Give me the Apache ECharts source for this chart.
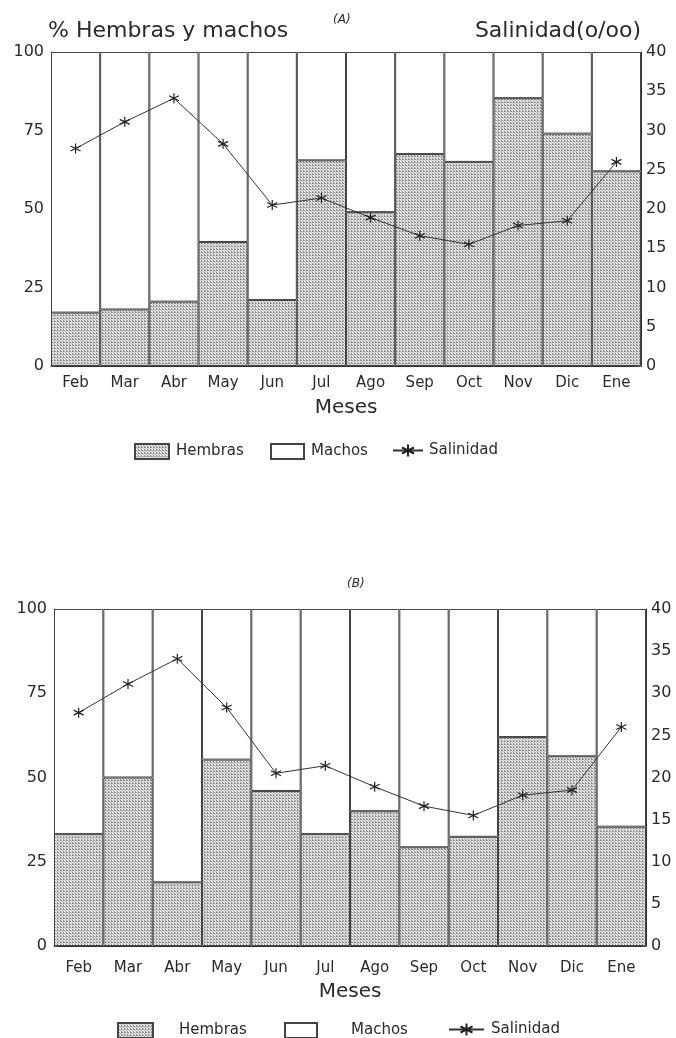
<!DOCTYPE html>
<html>
<head>
<meta charset="utf-8">
<script src="https://cdn.jsdelivr.net/npm/echarts@6/dist/echarts.min.js"></script>
<style>
html,body{margin:0;padding:0;background:#fff;}
#c{width:676px;height:1038px;}
</style>
</head>
<body>
<div id="c"></div>
<script>
const meses = ['Feb','Mar','Abr','May','Jun','Jul','Ago','Sep','Oct','Nov','Dic','Ene'];
const hembrasA = [17, 18, 20.5, 39.5, 21, 65.5, 49, 67.5, 65, 85.3, 74, 62];
const machosA  = [83, 82, 79.5, 60.5, 79, 34.5, 51, 32.5, 35, 14.7, 26, 38];
const hembrasB = [33.2, 50, 18.9, 55.3, 46, 33.2, 40, 29.3, 32.4, 62, 56.3, 35.4];
const machosB  = [66.8, 50, 81.1, 44.7, 54, 66.8, 60, 70.7, 67.6, 38, 43.7, 64.6];
const salinidad = [27.7, 31.1, 34.1, 28.3, 20.5, 21.4, 18.9, 16.6, 15.5, 17.9, 18.5, 26.0];
const leftTicks = [0, 25, 50, 75, 100];
const rightTicks = [0, 5, 10, 15, 20, 25, 30, 35, 40];

// dotted fill pattern
const pc = document.createElement('canvas');
pc.width = 3; pc.height = 3;
const pctx = pc.getContext('2d');
pctx.fillStyle = '#e6e6e6'; pctx.fillRect(0,0,3,3);
pctx.fillStyle = '#8c8c8c';
pctx.fillRect(0,0,1,1); pctx.fillRect(1,0,1,1);
pctx.fillRect(0,2,1,1);
pctx.fillStyle = '#b4b4b4';
pctx.fillRect(2,1,1,1);
const pattern = {image: pc, repeat: 'repeat'};

const star = 'path://M0,-5L0,5M-4.4,-2.5L4.4,2.5M-4.4,2.5L4.4,-2.5M0,-5';
const FONT = 'DejaVu Sans';
const TXT = '#2a2a2a';

const grids = [
  {left: 51, top: 52, width: 590, height: 314},
  {left: 54, top: 609, width: 592, height: 337}
];

function xAxis(i, margin, gap){
  return {
    type: 'category', gridIndex: i, data: meses,
    axisLine: {lineStyle: {color: '#333', width: 1}},
    axisTick: {inside: true, alignWithLabel: true, length: 5, lineStyle: {color: '#555'}},
    axisLabel: {color: TXT, fontFamily: FONT, fontSize: 15, margin: margin},
    name: 'Meses', nameLocation: 'middle', nameGap: gap,
    nameTextStyle: {color: TXT, fontFamily: FONT, fontSize: 20}
  };
}
function yLeft(i){
  return {
    type: 'value', gridIndex: i, position: 'left', min: leftTicks[0], max: leftTicks[leftTicks.length-1], interval: 25,
    splitLine: {show: false},
    axisLine: {show: true, lineStyle: {color: '#333'}},
    axisTick: {show: true, inside: true, length: 4, lineStyle: {color: '#555'}},
    axisLabel: {color: TXT, fontFamily: FONT, fontSize: 16, margin: 7}
  };
}
function yRight(i){
  return {
    type: 'value', gridIndex: i, position: 'right', min: rightTicks[0], max: rightTicks[rightTicks.length-1], interval: 5,
    splitLine: {show: false},
    axisLine: {show: true, lineStyle: {color: '#333'}},
    axisTick: {show: true, inside: true, length: 4, lineStyle: {color: '#555'}},
    axisLabel: {color: TXT, fontFamily: FONT, fontSize: 16, margin: 5}
  };
}

function series(i, h, m){
  return [
    {name: 'Hembras', type: 'bar', stack: 's'+i, xAxisIndex: i, yAxisIndex: 2*i, data: h,
     barCategoryGap: 0, itemStyle: {color: pattern, borderColor: '#444', borderWidth: 1}, z: 2},
    {name: 'Machos', type: 'bar', stack: 's'+i, xAxisIndex: i, yAxisIndex: 2*i, data: m,
     barCategoryGap: 0, itemStyle: {color: '#fff', borderColor: '#444', borderWidth: 1}, z: 2},
    {name: 'Salinidad', type: 'line', xAxisIndex: i, yAxisIndex: 2*i+1, data: salinidad,
     symbol: star, symbolSize: 10, showSymbol: true,
     lineStyle: {color: '#333', width: 1},
     itemStyle: {color: 'rgba(0,0,0,0)', borderColor: '#222', borderWidth: 1.2}, z: 5}
  ];
}

function leg(name, left, top, w, pad){
  return {left: left, top: top, padding: 0, itemWidth: w, itemHeight: 15,
    data: [name.name ? name : {name: name, icon: 'rect'}],
    textStyle: {fontFamily: FONT, fontSize: 15, color: TXT, padding: [0, 0, 0, pad]}};
}
const lineLegend = {name: 'Salinidad'};

const chart = echarts.init(document.getElementById('c'), null, {renderer: 'canvas'});
chart.setOption({
  backgroundColor: '#fff',
  animation: false,
  textStyle: {fontFamily: FONT},
  title: [
    {text: '% Hembras y machos', left: 48, top: 20, padding: 0, textStyle: {fontFamily: FONT, fontSize: 22, fontWeight: 'normal', color: TXT}},
    {text: 'Salinidad(o/oo)', right: 35, top: 20, padding: 0, textStyle: {fontFamily: FONT, fontSize: 22, fontWeight: 'normal', color: TXT}},
    {text: '(A)', left: 333, top: 14, padding: 0, textStyle: {fontFamily: FONT, fontSize: 12, fontStyle: 'italic', fontWeight: 'normal', color: TXT}},
    {text: '(B)', left: 347, top: 578, padding: 0, textStyle: {fontFamily: FONT, fontSize: 12, fontStyle: 'italic', fontWeight: 'normal', color: TXT}}
  ],
  legend: [
    leg('Hembras', 134, 443, 34, 2),
    leg('Machos', 270, 443, 33, 2),
    leg(lineLegend, 392, 443, 30, 1),
    leg('Hembras', 117, 1022, 35, 21),
    leg('Machos', 284, 1022, 32, 29),
    leg(lineLegend, 448, 1022, 35, 2)
  ],
  grid: grids,
  xAxis: [xAxis(0, 10, 32), xAxis(1, 15, 36)],
  yAxis: [yLeft(0), yRight(0), yLeft(1), yRight(1)],
  series: [].concat(series(0, hembrasA, machosA), series(1, hembrasB, machosB))
});
</script>
</body>
</html>
